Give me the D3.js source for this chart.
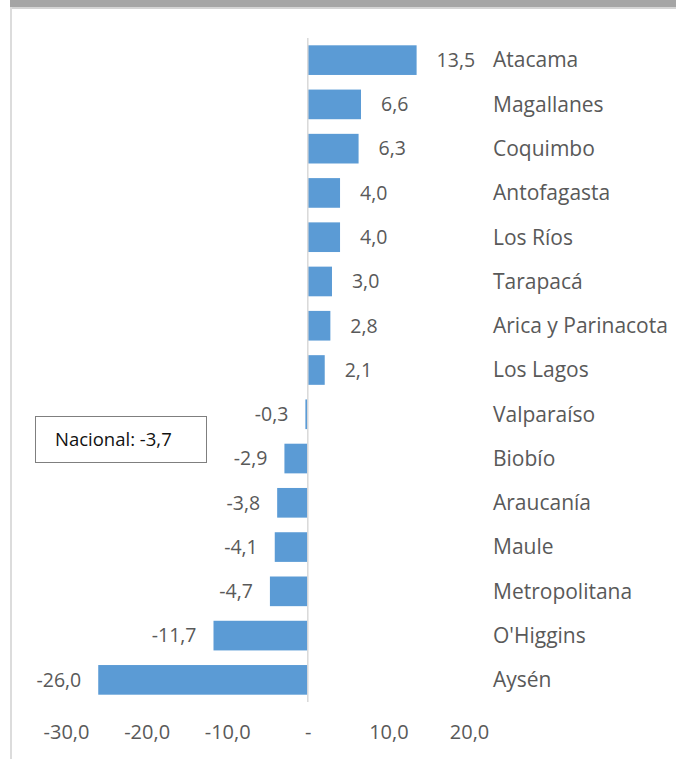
<!DOCTYPE html>
<html>
<head>
<meta charset="utf-8">
<script src="https://cdn.jsdelivr.net/npm/d3@7"></script>
<style>
  body { margin: 0; background: #fff; }
  svg { display: block; font-family: "Open Sans", sans-serif; }
</style>
</head>
<body>
<svg></svg>
<script>
// data
var regions = ["Atacama", "Magallanes", "Coquimbo", "Antofagasta", "Los Ríos", "Tarapacá",
  "Arica y Parinacota", "Los Lagos", "Valparaíso", "Biobío", "Araucanía", "Maule",
  "Metropolitana", "O'Higgins", "Aysén"];
var values = [13.5, 6.6, 6.3, 4.0, 4.0, 3.0, 2.8, 2.1, -0.3, -2.9, -3.8, -4.1, -4.7, -11.7, -26.0];
var xTicks = [-30, -20, -10, 0, 10, 20];
var nacionalLabel = "Nacional: -3,7";

var width = 676,
    height = 759;

var svg = d3.select("svg")
    .attr("width", width)
    .attr("height", height);

// frame: grey band on top, thin line on the left
svg.append("rect")
    .attr("x", 10).attr("y", 0)
    .attr("width", width - 10).attr("height", 7)
    .attr("fill", "#a5a5a5");
svg.append("rect")
    .attr("x", 10).attr("y", 7)
    .attr("width", width - 10).attr("height", 2)
    .attr("fill", "#d4d4d4");
svg.append("rect")
    .attr("x", 10).attr("y", 7)
    .attr("width", 2).attr("height", height - 7)
    .attr("fill", "#dcdcdc");

var x = d3.scaleLinear()
    .domain([-30, 20])
    .range([66, 469]);

var y = d3.scaleBand()
    .domain(regions)
    .range([38, 702])
    .paddingInner(0.33)
    .paddingOuter(0.165);

// excel style: comma decimals, plain hyphen, dash for zero
var fmt = function(v) {
  if (v === 0) return "-";
  return d3.format(".1f")(v).replace("\u2212", "-").replace(".", ",");
};

var g = svg.append("g");

// bars
g.selectAll("rect.bar")
  .data(values)
  .enter().append("rect")
    .attr("class", "bar")
    .attr("x", function(d) { return x(Math.min(0, d)); })
    .attr("y", function(d, i) { return y(regions[i]); })
    .attr("width", function(d) { return Math.abs(x(d) - x(0)); })
    .attr("height", y.bandwidth())
    .attr("fill", "#5b9bd5");

// zero line
g.append("line")
    .attr("x1", x(0)).attr("x2", x(0))
    .attr("y1", y.range()[0]).attr("y2", y.range()[1])
    .attr("stroke", "#d9d9d9")
    .attr("stroke-width", 1.5);

// value labels
g.selectAll("text.value")
  .data(values)
  .enter().append("text")
    .attr("class", "value")
    .attr("x", function(d) { return d >= 0 ? x(d) + 20 : x(d) - 17; })
    .attr("y", function(d, i) { return y(regions[i]) + y.bandwidth() / 2; })
    .attr("dy", "0.35em")
    .attr("text-anchor", function(d) { return d >= 0 ? "start" : "end"; })
    .attr("font-size", 19.5)
    .attr("fill", "#595959")
    .text(fmt);

// region names
g.selectAll("text.region")
  .data(regions)
  .enter().append("text")
    .attr("class", "region")
    .attr("x", 493)
    .attr("y", function(d) { return y(d) + y.bandwidth() / 2; })
    .attr("dy", "0.35em")
    .attr("font-size", 21)
    .attr("fill", "#595959")
    .text(function(d) { return d; });

// x axis tick labels
var xAxis = g.append("g")
    .attr("transform", "translate(0,739)")
    .call(d3.axisBottom(x).tickValues(xTicks).tickFormat(fmt).tickSize(0).tickPadding(0));

xAxis.select(".domain").remove();
xAxis.selectAll("text")
    .attr("dy", 0)
    .attr("font-family", "Open Sans, sans-serif")
    .attr("font-size", 20)
    .attr("fill", "#595959");

// national reference box
var box = svg.append("g");
box.append("rect")
    .attr("x", 35.5).attr("y", 416.5)
    .attr("width", 171).attr("height", 46)
    .attr("fill", "#fff")
    .attr("stroke", "#7f7f7f")
    .attr("stroke-width", 1);
box.append("text")
    .attr("x", 55)
    .attr("y", 446)
    .attr("font-size", 18.5)
    .attr("fill", "#111")
    .text(nacionalLabel);
</script>
</body>
</html>
